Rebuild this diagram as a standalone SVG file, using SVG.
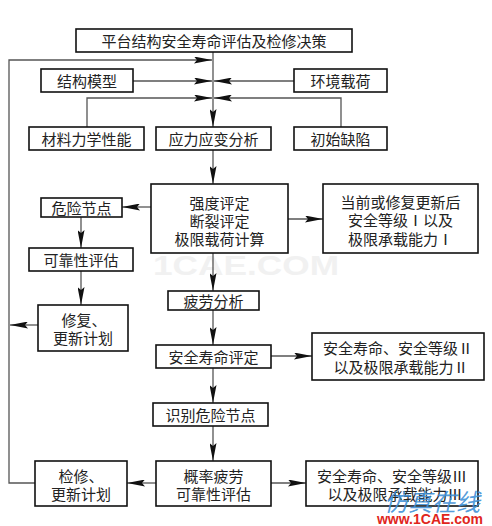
<svg xmlns="http://www.w3.org/2000/svg" width="492" height="526" viewBox="0 0 492 526">
<defs>
<marker id="ah" markerUnits="userSpaceOnUse" markerWidth="19" markerHeight="7" refX="18" refY="3.5" orient="auto">
<path d="M0,0 L18,3.5 L0,7 L3,3.5 z" fill="#111"/>
</marker>
<style>
.box{fill:#fff;stroke:#111;stroke-width:1.6}
.t{font-family:"Noto Sans CJK SC","Noto Sans",sans-serif;font-size:15px;fill:#222;text-anchor:middle;dominant-baseline:central}
.c{fill:none;stroke:#555;stroke-width:1.3}
</style>
</defs>
<rect width="492" height="526" fill="#fff"/>
<text x="246" y="266" font-family="Liberation Sans,sans-serif" font-weight="bold" font-size="27" fill="#f1f1f1" text-anchor="middle" dominant-baseline="central" textLength="186" lengthAdjust="spacingAndGlyphs">1CAE.COM</text>
<g id="connectors">
<polyline class="c" points="35,483 9,483 9,60 212,60" marker-end="url(#ah)"/>
<line class="c" x1="38" y1="325" x2="10" y2="325" marker-end="url(#ah)"/>
<line class="c" x1="213" y1="52" x2="213" y2="127" marker-end="url(#ah)"/>
<line class="c" x1="133" y1="81" x2="212" y2="81" marker-end="url(#ah)"/>
<line class="c" x1="294" y1="81" x2="214" y2="81" marker-end="url(#ah)"/>
<polyline class="c" points="87,127 87,98 212,98" marker-end="url(#ah)"/>
<polyline class="c" points="341,127 341,98 214,98" marker-end="url(#ah)"/>
<line class="c" x1="213" y1="150" x2="213" y2="184" marker-end="url(#ah)"/>
<line class="c" x1="151" y1="207" x2="122" y2="207" marker-end="url(#ah)"/>
<line class="c" x1="288" y1="219" x2="323" y2="219" marker-end="url(#ah)"/>
<line class="c" x1="81" y1="217" x2="81" y2="248" marker-end="url(#ah)"/>
<line class="c" x1="81" y1="271" x2="81" y2="305" marker-end="url(#ah)"/>
<line class="c" x1="213" y1="253" x2="213" y2="291" marker-end="url(#ah)"/>
<line class="c" x1="213" y1="310" x2="213" y2="345" marker-end="url(#ah)"/>
<line class="c" x1="271" y1="356" x2="312" y2="356" marker-end="url(#ah)"/>
<line class="c" x1="213" y1="368" x2="213" y2="403" marker-end="url(#ah)"/>
<line class="c" x1="213" y1="426" x2="213" y2="461" marker-end="url(#ah)"/>
<line class="c" x1="156" y1="483" x2="127" y2="483" marker-end="url(#ah)"/>
<line class="c" x1="271" y1="483" x2="306" y2="483" marker-end="url(#ah)"/>
</g>
<g id="title"><rect class="box" x="76" y="29" width="276" height="23"/><text class="t" x="214" y="40.5">平台结构安全寿命评估及检修决策</text></g>
<g id="structModel"><rect class="box" x="41" y="69" width="92" height="23"/><text class="t" x="87" y="80.5">结构模型</text></g>
<g id="envLoad"><rect class="box" x="294" y="69" width="93" height="23"/><text class="t" x="340.5" y="80.5">环境载荷</text></g>
<g id="material"><rect class="box" x="29" y="127" width="115" height="23"/><text class="t" x="86.5" y="138.5">材料力学性能</text></g>
<g id="stress"><rect class="box" x="156" y="127" width="115" height="23"/><text class="t" x="213.5" y="138.5">应力应变分析</text></g>
<g id="defect"><rect class="box" x="294" y="127" width="93" height="23"/><text class="t" x="340.5" y="138.5">初始缺陷</text></g>
<g id="strength"><rect class="box" x="151" y="184" width="137" height="69"/><text class="t"><tspan x="219.5" y="202">强度评定</tspan><tspan x="219.5" y="220">断裂评定</tspan><tspan x="219.5" y="238">极限载荷计算</tspan></text></g>
<g id="danger"><rect class="box" x="41" y="198" width="81" height="19"/><text class="t" x="81.5" y="207.5">危险节点</text></g>
<g id="safety1"><rect class="box" x="323" y="184" width="155" height="69"/><text class="t"><tspan x="400.5" y="201">当前或修复更新后</tspan><tspan x="400.5" y="219">安全等级Ⅰ以及</tspan><tspan x="400.5" y="238">极限承载能力Ⅰ</tspan></text></g>
<g id="reliability"><rect class="box" x="29" y="248" width="104" height="23"/><text class="t" x="81" y="259.5">可靠性评估</text></g>
<g id="repair"><rect class="box" x="38" y="305" width="90" height="46"/><text class="t"><tspan x="84" y="319">修复、</tspan><tspan x="83" y="337">更新计划</tspan></text></g>
<g id="fatigue"><rect class="box" x="168" y="291" width="91" height="19"/><text class="t" x="213.5" y="300.5">疲劳分析</text></g>
<g id="lifeEval"><rect class="box" x="156" y="345" width="115" height="23"/><text class="t" x="213.5" y="356.5">安全寿命评定</text></g>
<g id="safety2"><rect class="box" x="312" y="333" width="172" height="47"/><text class="t"><tspan x="398" y="347">安全寿命、安全等级Ⅱ</tspan><tspan x="401" y="366">以及极限承载能力Ⅱ</tspan></text></g>
<g id="identify"><rect class="box" x="153" y="403" width="115" height="23"/><text class="t" x="210.5" y="414.5">识别危险节点</text></g>
<g id="probFatigue"><rect class="box" x="156" y="461" width="115" height="45"/><text class="t"><tspan x="213.5" y="475">概率疲劳</tspan><tspan x="213.5" y="493">可靠性评估</tspan></text></g>
<g id="inspect"><rect class="box" x="35" y="461" width="92" height="45"/><text class="t"><tspan x="81" y="475">检修、</tspan><tspan x="81" y="493">更新计划</tspan></text></g>
<g id="safety3"><rect class="box" x="306" y="461" width="172" height="45"/><text class="t"><tspan x="392" y="475">安全寿命、安全等级Ⅲ</tspan><tspan x="395" y="493">以及极限承载能力Ⅲ</tspan></text></g>
<text x="432" y="500" font-family="Noto Sans CJK SC,sans-serif" font-size="24" fill="#3d8fd6" fill-opacity="0.9" text-anchor="middle" dominant-baseline="central" font-style="italic">仿真在线</text>
<text x="430" y="519" font-family="Liberation Sans,sans-serif" font-weight="bold" font-size="14" fill="#e0261c" text-anchor="middle" dominant-baseline="central">www.1CAE.com</text>
</svg>
